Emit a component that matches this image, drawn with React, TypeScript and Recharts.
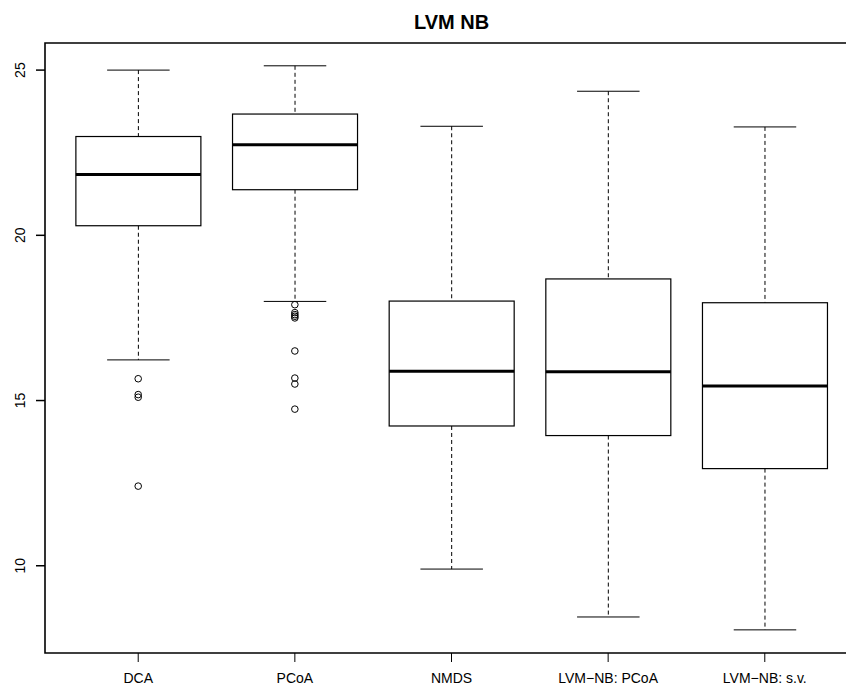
import { ComposedChart, Bar, Scatter, XAxis, YAxis, ReferenceArea } from 'recharts';

// five ordination methods, one box each
const METHODS = ['DCA', 'PCoA', 'NMDS', 'LVM\u2212NB: PCoA', 'LVM\u2212NB: s.v.'];
const POSITIONS = [1, 2, 3, 4, 5];

const WHISKER_LOW = [16.23, 18.0, 9.9, 8.45, 8.06];
const Q1 = [20.29, 21.38, 14.23, 13.94, 12.94];
const MEDIAN = [21.84, 22.74, 15.89, 15.87, 15.44];
const Q3 = [22.99, 23.67, 18.01, 18.68, 17.96];
const WHISKER_HIGH = [25.0, 25.13, 23.3, 24.36, 23.28];

const OUTLIERS: number[][] = [
  [15.66, 15.18, 15.1, 12.41],
  [17.9, 17.66, 17.6, 17.55, 17.5, 16.5, 15.68, 15.5, 14.74],
  [],
  [],
  [],
];

const Y_TICKS = [10, 15, 20, 25];
const Y_DOMAIN: [number, number] = [7.36, 25.82];
const X_DOMAIN: [number, number] = [0.405, 5.595];

const FONT = '"Liberation Sans", Arial, Helvetica, sans-serif';

const boxes = POSITIONS.map((pos, i) => ({
  pos,
  name: METHODS[i],
  lo: WHISKER_LOW[i],
  q1: Q1[i],
  med: MEDIAN[i],
  q3: Q3[i],
  hi: WHISKER_HIGH[i],
}));

const outlierPoints = OUTLIERS.flatMap((vals, i) =>
  vals.map((value) => ({ pos: POSITIONS[i], value })),
);

// whiskers, box and median for one group; the bar spans lo..hi
function BoxShape(props: any) {
  const { x, y, width, height, payload } = props;
  const top = Math.min(y, y + height);
  const span = Math.abs(height);
  const { lo, q1, med, q3, hi } = payload;
  const py = (v: number) => top + (span * (hi - v)) / (hi - lo);
  const cx = x + width / 2;
  const cap = width / 4;
  return (
    <g>
      <line x1={cx} x2={cx} y1={py(hi)} y2={py(q3)} stroke="#000" strokeWidth={1} strokeDasharray="4 3" />
      <line x1={cx} x2={cx} y1={py(q1)} y2={py(lo)} stroke="#000" strokeWidth={1} strokeDasharray="4 3" />
      <line x1={cx - cap} x2={cx + cap} y1={py(hi)} y2={py(hi)} stroke="#000" strokeWidth={1} />
      <line x1={cx - cap} x2={cx + cap} y1={py(lo)} y2={py(lo)} stroke="#000" strokeWidth={1} />
      <rect x={x} y={py(q3)} width={width} height={py(q1) - py(q3)} fill="#fff" stroke="#000" strokeWidth={1.2} />
      <line x1={x} x2={x + width} y1={py(med)} y2={py(med)} stroke="#000" strokeWidth={3} />
    </g>
  );
}

function OutlierDot(props: any) {
  const { cx, cy } = props;
  return <circle cx={cx} cy={cy} r={3.3} fill="none" stroke="#000" strokeWidth={1} />;
}

function XTick(props: any) {
  const { x, y, payload } = props;
  return (
    <text x={x} y={y} dy={21} textAnchor="middle" fontSize={14} fontFamily={FONT} fill="#000">
      {METHODS[POSITIONS.indexOf(payload.value)]}
    </text>
  );
}

function YTick(props: any) {
  const { x, y, payload } = props;
  return (
    <text
      x={x}
      y={y}
      textAnchor="middle"
      fontSize={14}
      fontFamily={FONT}
      fill="#000"
      transform={`rotate(-90 ${x} ${y})`}
    >
      {payload.value}
    </text>
  );
}

export default function App() {
  return (
    <div
      style={{
        position: 'fixed',
        left: 0,
        top: 0,
        width: 846,
        height: 689,
        overflow: 'hidden',
        background: '#fff',
        fontFamily: FONT,
      }}
    >
      <div
        style={{
          position: 'absolute',
          left: 0,
          top: 12,
          width: 903,
          textAlign: 'center',
          fontSize: 20,
          lineHeight: '20px',
          fontWeight: 'bold',
          color: '#000',
        }}
      >
        LVM NB
      </div>
      <ComposedChart
        width={870}
        height={689}
        data={boxes}
        margin={{ top: 43, right: 12, bottom: 0, left: 0 }}
      >
        <XAxis
          type="number"
          dataKey="pos"
          domain={X_DOMAIN}
          ticks={POSITIONS}
          allowDataOverflow
          axisLine={false}
          tickSize={9}
          tickMargin={0}
          tickLine={{ stroke: '#000', strokeWidth: 1 }}
          tick={<XTick />}
          height={36}
          interval={0}
        />
        <YAxis
          type="number"
          dataKey="value"
          domain={Y_DOMAIN}
          ticks={Y_TICKS}
          allowDataOverflow
          axisLine={false}
          tickSize={9}
          tickMargin={11}
          tickLine={{ stroke: '#000', strokeWidth: 1.5 }}
          tick={<YTick />}
          width={45}
          interval={0}
        />
        <Bar
          dataKey={(d: any) => [d.lo, d.hi]}
          barSize={125}
          shape={<BoxShape />}
          isAnimationActive={false}
        />
        <Scatter
          data={outlierPoints}
          dataKey="value"
          shape={<OutlierDot />}
          isAnimationActive={false}
        />
        <ReferenceArea
          x1={X_DOMAIN[0]}
          x2={X_DOMAIN[1]}
          y1={Y_DOMAIN[0]}
          y2={Y_DOMAIN[1]}
          fill="none"
          stroke="#000"
          strokeWidth={1.6}
          ifOverflow="visible"
        />
      </ComposedChart>
    </div>
  );
}
